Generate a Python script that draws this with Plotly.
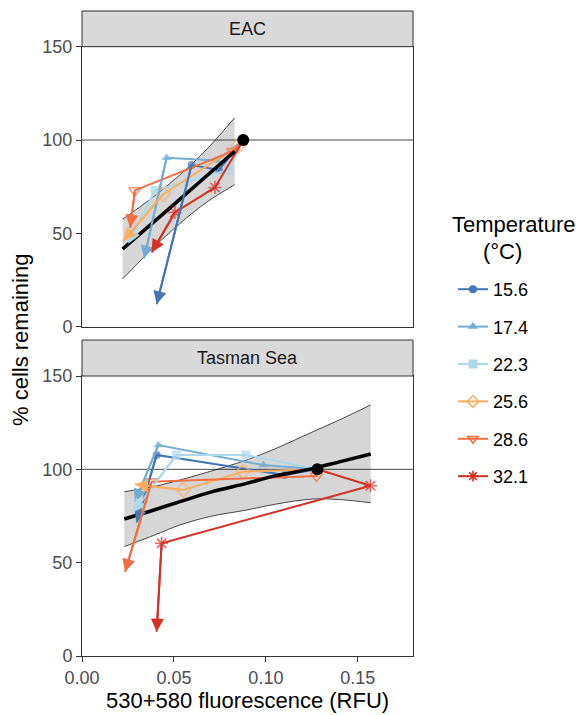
import plotly.graph_objects as go

# ---------------- data ----------------
temps = ["15.6", "17.4", "22.3", "25.6", "28.6", "32.1"]
colors = ["#4575b4", "#74add1", "#abd9e9", "#fdae61", "#f46d43", "#d73027"]
symbols = ["circle", "triangle-up", "square", "diamond-open", "triangle-down-open", "asterisk-open"]

panels = ["EAC", "Tasman Sea"]

# EAC paths (start, two intermediate points, end)
eac_x = [
    [0.0877, 0.0745, 0.0596, 0.0406],
    [0.0877, 0.0732, 0.0460, 0.0338],
    [0.0877, 0.0800, 0.0397, 0.0252],
    [0.0877, 0.0850, 0.0442, 0.0225],
    [0.0877, 0.0820, 0.0288, 0.0262],
    [0.0877, 0.0723, 0.0505, 0.0379],
]
eac_y = [
    [100, 84.0, 86.6, 12.0],
    [100, 89.0, 90.5, 36.5],
    [100, 84.0, 73.0, 44.5],
    [100, 97.0, 71.0, 46.0],
    [100, 94.0, 73.0, 53.0],
    [100, 74.6, 61.2, 39.8],
]
# Tasman Sea paths
tas_x = [
    [0.128, 0.1103, 0.0406, 0.0297],
    [0.128, 0.0986, 0.0415, 0.0288],
    [0.128, 0.0891, 0.0514, 0.0279],
    [0.128, 0.0877, 0.0551, 0.0288],
    [0.128, 0.1275, 0.0379, 0.0234],
    [0.128, 0.1569, 0.0433, 0.0406],
]
tas_y = [
    [100, 97.0, 107.7, 71.5],
    [100, 102.3, 113.0, 82.5],
    [100, 107.7, 107.7, 77.0],
    [100, 98.8, 88.9, 92.0],
    [100, 96.4, 93.4, 45.0],
    [100, 91.2, 60.4, 13.0],
]

# initial reference points
start_x = [0.0877, 0.128]
start_y = [100, 100]

# fitted model and confidence band
eac_fit_x = [0.0221, 0.0375, 0.0530, 0.0680, 0.0830]
eac_fit_y = [41.6, 54.8, 68.1, 81.0, 93.9]
eac_lo = [25.6, 41.0, 55.1, 66.8, 76.1]
eac_hi = [57.6, 68.6, 81.1, 95.2, 111.9]

tas_fit_x = [0.023, 0.040, 0.0533, 0.070, 0.0895, 0.105, 0.1257, 0.140, 0.157]
tas_fit_y = [73.4, 78.5, 82.7, 87.8, 92.5, 96.5, 100.5, 104.0, 108.2]
tas_lo = [58.6, 65.0, 70.2, 74.8, 78.2, 81.3, 84.1, 83.8, 82.1]
tas_hi = [88.0, 91.0, 94.3, 99.0, 105.0, 111.0, 120.2, 126.5, 134.5]

ref_line_y = 100
x_range = [0, 0.18]
y_ticks = [0, 50, 100, 150]
x_ticks = [0, 0.05, 0.10, 0.15]
x_ticktext = ["0.00", "0.05", "0.10", "0.15"]

# ---------------- figure ----------------
FONT = "Liberation Sans, Arial, Helvetica, sans-serif"
fig = go.Figure()

panel_paths = [(eac_x, eac_y), (tas_x, tas_y)]
panel_fits = [(eac_fit_x, eac_fit_y, eac_lo, eac_hi), (tas_fit_x, tas_fit_y, tas_lo, tas_hi)]
axes = [("x", "y"), ("x2", "y2")]

for p in range(2):
    xa, ya = axes[p]
    fx, fy, lo, hi = panel_fits[p]
    # ribbon
    fig.add_trace(go.Scatter(x=fx, y=lo, mode="lines", line=dict(color="black", width=0.7, shape="spline"),
                             xaxis=xa, yaxis=ya, showlegend=False, hoverinfo="skip"))
    fig.add_trace(go.Scatter(x=fx, y=hi, mode="lines", line=dict(color="black", width=0.7, shape="spline"),
                             fill="tonexty", fillcolor="#D6D6D6",
                             xaxis=xa, yaxis=ya, showlegend=False, hoverinfo="skip"))
    # reference line at 100
    fig.add_trace(go.Scatter(x=x_range, y=[ref_line_y, ref_line_y], mode="lines",
                             line=dict(color="#1a1a1a", width=0.8),
                             xaxis=xa, yaxis=ya, showlegend=False, hoverinfo="skip"))
    # paths
    px, py = panel_paths[p]
    for i in range(len(temps)):
        col = colors[i]
        sym = symbols[i]
        is_open = sym.endswith("-open")
        msize = [0, 9 if not is_open else 11, 9 if not is_open else 11, 0]
        if sym == "circle":
            msize = [0, 8, 8, 0]
        fig.add_trace(go.Scatter(
            x=px[i], y=py[i], mode="lines+markers",
            line=dict(color=col, width=2),
            marker=dict(symbol=sym, size=msize, color=col,
                        line=dict(color=col, width=1.6 if is_open else 0)),
            xaxis=xa, yaxis=ya, showlegend=False, hoverinfo="skip"))
        # closed arrow head on the last segment
        fig.add_annotation(x=px[i][-1], y=py[i][-1], ax=px[i][-2], ay=py[i][-2],
                           xref=xa, yref=ya, axref=xa, ayref=ya, text="",
                           showarrow=True, arrowhead=2, arrowsize=1.3, arrowwidth=2,
                           arrowcolor=col, standoff=0, startstandoff=0)
    # fitted line
    fig.add_trace(go.Scatter(x=fx, y=fy, mode="lines", line=dict(color="black", width=3.5, shape="spline"),
                             xaxis=xa, yaxis=ya, showlegend=False, hoverinfo="skip"))
    # starting point
    fig.add_trace(go.Scatter(x=[start_x[p]], y=[start_y[p]], mode="markers",
                             marker=dict(color="black", size=12),
                             xaxis=xa, yaxis=ya, showlegend=False, hoverinfo="skip"))

# legend entries
for i, t in enumerate(temps):
    is_open = symbols[i].endswith("-open")
    fig.add_trace(go.Scatter(
        x=[None], y=[None], mode="lines+markers", name=t, legendgroup=t,
        line=dict(color=colors[i], width=2),
        marker=dict(symbol=symbols[i], size=9 if symbols[i] != "circle" else 8, color=colors[i],
                    line=dict(color=colors[i], width=1.6 if is_open else 0)),
        xaxis="x", yaxis="y"))

H_PLOT = 645.0
top_dom = [(656 - 326.7) / H_PLOT, (656 - 46.7) / H_PLOT]
bot_dom = [0, 280 / H_PLOT]

axis_common = dict(showline=True, mirror=True, linecolor="#333333", linewidth=1,
                   showgrid=False, zeroline=False)

fig.update_layout(
    width=583, height=715,
    margin=dict(l=82, r=170, t=11, b=59, autoexpand=False),
    paper_bgcolor="white", plot_bgcolor="white",
    font=dict(family=FONT, color="black"),
    xaxis=dict(domain=[0, 1], range=x_range, anchor="y", showticklabels=False, ticks="",
               **axis_common),
    yaxis=dict(domain=top_dom, range=[0, 150], anchor="x", tickvals=y_ticks, ticks="outside",
               ticklen=5, tickcolor="#333333", tickfont=dict(size=18, color="#4D4D4D"),
               **axis_common),
    xaxis2=dict(domain=[0, 1], range=x_range, anchor="y2", tickvals=x_ticks, ticktext=x_ticktext,
                ticks="outside", ticklen=5, tickcolor="#333333",
                tickfont=dict(size=18, color="#4D4D4D"), **axis_common),
    yaxis2=dict(domain=bot_dom, range=[0, 150], anchor="x2", tickvals=y_ticks, ticks="outside",
                ticklen=5, tickcolor="#333333", tickfont=dict(size=18, color="#4D4D4D"),
                **axis_common),
    legend=dict(x=(453 - 82) / 331, xanchor="left", y=(656 - 271) / H_PLOT, yanchor="top",
                font=dict(size=18, color="black"), traceorder="grouped", tracegroupgap=11,
                bgcolor="rgba(0,0,0,0)", itemwidth=30),
    showlegend=True,
)

# strips
for dom, label in [((top_dom[1], 1.0), panels[0]), ((bot_dom[1], (656 - 340) / H_PLOT), panels[1])]:
    fig.add_shape(type="rect", xref="paper", yref="paper", x0=0, x1=1, y0=dom[0], y1=dom[1],
                  fillcolor="#D9D9D9", line=dict(color="#333333", width=1), layer="above")
    fig.add_annotation(text=label, xref="paper", yref="paper", x=0.5, y=(dom[0] + dom[1]) / 2,
                       showarrow=False, font=dict(size=18, color="#1A1A1A"),
                       xanchor="center", yanchor="middle")

# axis titles
fig.add_annotation(text="% cells remaining", xref="paper", yref="paper",
                   x=(20 - 82) / 331, y=(656 - 340) / H_PLOT, textangle=-90, showarrow=False,
                   font=dict(size=22), xanchor="center", yanchor="middle")
fig.add_annotation(text="530+580 fluorescence (RFU)", xref="paper", yref="paper",
                   x=0.5, y=(656 - 700) / H_PLOT, showarrow=False,
                   font=dict(size=22), xanchor="center", yanchor="middle")
# legend title
fig.add_annotation(text="Temperature", xref="paper", yref="paper",
                   x=(514 - 82) / 331, y=(656 - 225) / H_PLOT, showarrow=False,
                   font=dict(size=22), xanchor="center", yanchor="middle")
fig.add_annotation(text="(°C)", xref="paper", yref="paper",
                   x=(502 - 82) / 331, y=(656 - 251) / H_PLOT, showarrow=False,
                   font=dict(size=22), xanchor="center", yanchor="middle")

fig.write_html("out.html", config={"displayModeBar": False},
               post_script="document.body.style.margin='0';")
